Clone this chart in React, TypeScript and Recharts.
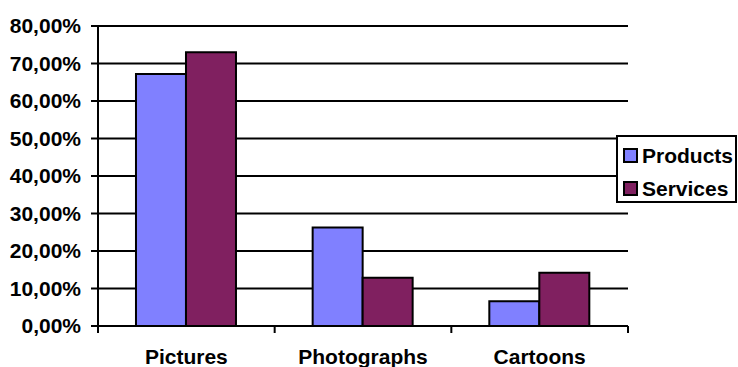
import React from "react";
import {
  BarChart,
  Bar,
  XAxis,
  YAxis,
  CartesianGrid,
  Legend,
} from "recharts";

const categories = ["Pictures", "Photographs", "Cartoons"];
const products = [67.2, 26.3, 6.6];
const services = [73.0, 12.9, 14.2];
const yTicks = [0, 10, 20, 30, 40, 50, 60, 70, 80];

const chartData = categories.map((name, i) => ({
  name,
  Products: products[i],
  Services: services[i],
}));

const FONT = "'Liberation Sans', Arial, sans-serif";
const PLOT_LEFT = 98;
const PLOT_RIGHT = 628;
const BAND = (PLOT_RIGHT - PLOT_LEFT) / categories.length;

const fmt = (v: number) => v.toFixed(2).replace(".", ",") + "%";

// category label plus the tick marks at the band edges
const CategoryTick = (props: any) => {
  const { x, y, payload, index } = props;
  const left = x - BAND / 2;
  return (
    <g>
      <line x1={left} x2={left} y1={y} y2={y + 7} stroke="#000" strokeWidth={2} />
      {index === categories.length - 1 && (
        <line x1={left + BAND} x2={left + BAND} y1={y} y2={y + 7} stroke="#000" strokeWidth={2} />
      )}
      <text
        x={x}
        y={y + 38}
        textAnchor="middle"
        fill="#000"
        fontSize={21}
        fontWeight="bold"
        fontFamily={FONT}
      >
        {payload.value}
      </text>
    </g>
  );
};

const LegendBox = (props: any) => {
  const { payload } = props;
  return (
    <div
      style={{
        width: 117,
        height: 64,
        border: "2px solid #000",
        background: "#fff",
        fontFamily: FONT,
        fontWeight: "bold",
        fontSize: 21,
        color: "#000",
      }}
    >
      {(payload || []).map((p: any, i: number) => (
        <div
          key={`leg-${i}`}
          style={{
            display: "flex",
            alignItems: "center",
            height: 33,
            marginTop: i === 0 ? 2 : 0,
            paddingLeft: 5,
            whiteSpace: "nowrap",
          }}
        >
          <span
            style={{
              display: "inline-block",
              width: 11,
              height: 11,
              border: "2px solid #000",
              background: p.color,
              marginRight: 4,
            }}
          />
          {p.value}
        </div>
      ))}
    </div>
  );
};

export default function App() {
  return (
    <div style={{ position: "absolute", left: 0, top: 0, background: "#fff" }}>
      <BarChart
        width={738}
        height={367}
        data={chartData}
        margin={{ top: 26, right: 738 - PLOT_RIGHT, bottom: 0, left: 0 }}
        barCategoryGap="21.5%"
        barGap={0}
      >
        <CartesianGrid vertical={false} stroke="#000" strokeWidth={2} />
        <XAxis
          dataKey="name"
          axisLine={{ stroke: "#000", strokeWidth: 2 }}
          tickLine={false}
          tickSize={0}
          tickMargin={0}
          tick={<CategoryTick />}
          height={41}
          interval={0}
        />
        <YAxis
          width={PLOT_LEFT}
          domain={[0, 80]}
          ticks={yTicks}
          tickFormatter={fmt}
          axisLine={{ stroke: "#000", strokeWidth: 2 }}
          tickLine={{ stroke: "#000", strokeWidth: 2 }}
          tickSize={7}
          tickMargin={10}
          tick={{ fill: "#000", fontSize: 21, fontWeight: "bold", fontFamily: FONT }}
        />
        <Legend
          layout="vertical"
          align="center"
          verticalAlign="middle"
          wrapperStyle={{ left: 616, top: 135, width: "auto" }}
          content={<LegendBox />}
        />
        <Bar
          dataKey="Products"
          fill="#8080FF"
          stroke="#000"
          strokeWidth={2}
          isAnimationActive={false}
        />
        <Bar
          dataKey="Services"
          fill="#802060"
          stroke="#000"
          strokeWidth={2}
          isAnimationActive={false}
        />
      </BarChart>
    </div>
  );
}
